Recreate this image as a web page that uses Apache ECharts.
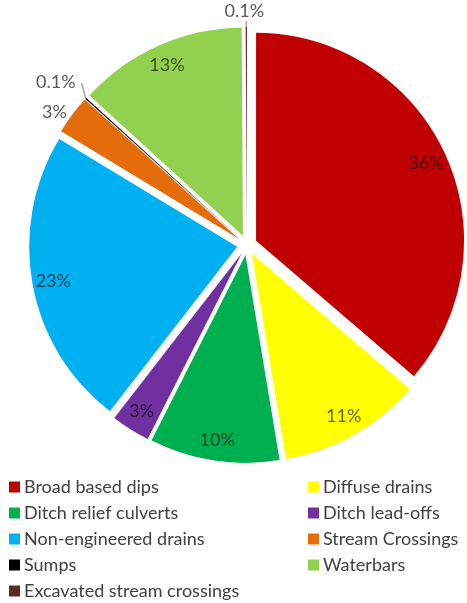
<!DOCTYPE html>
<html>
<head>
<meta charset="utf-8">
<script src="https://cdn.jsdelivr.net/npm/echarts@6/dist/echarts.min.js"></script>
<style>
  html, body { margin: 0; padding: 0; background: #ffffff; }
  #chart { width: 467px; height: 603px; }
</style>
</head>
<body>
<div id="chart"></div>
<script>
// Drainage feature types and their share of the total (percent)
const categories = [
  'Broad based dips',
  'Diffuse drains',
  'Ditch relief culverts',
  'Ditch lead-offs',
  'Non-engineered drains',
  'Stream Crossings',
  'Sumps',
  'Waterbars',
  'Excavated stream crossings'
];
const shares = [36, 11, 10, 3, 23, 3, 0.1, 13, 0.1];
const colors = ['#C00000', '#FFFF00', '#00B050', '#7030A0', '#00B0F0', '#E46C0A', '#000000', '#92D050', '#5C2A24'];

// Legend split into two columns (row-major order)
const legendLeft = ['Broad based dips', 'Ditch relief culverts', 'Non-engineered drains', 'Sumps', 'Excavated stream crossings'];
const legendRight = ['Diffuse drains', 'Ditch lead-offs', 'Stream Crossings', 'Waterbars'];

// Slices too thin for an inside label get an outside one
const outsideLabels = ['Stream Crossings', 'Sumps', 'Excavated stream crossings'];
const leaderLength = { 'Sumps': 11, 'Excavated stream crossings': 7 };

const FONT = 'Lato, "Open Sans", sans-serif';
const CENTER = [247, 245];
const R = 208;

const sliceData = categories.map((name, i) => {
  const outside = outsideLabels.includes(name);
  const leader = leaderLength[name];
  return {
    name: name,
    value: shares[i],
    selected: true,
    itemStyle: { color: colors[i] },
    label: { show: outside },
    labelLine: { show: !!leader, length: leader || 4, length2: 0 }
  };
});

// Transparent ring used only to place the inside labels near the rim
const labelData = categories.map((name, i) => ({
  name: name,
  value: shares[i],
  selected: true,
  label: { show: !outsideLabels.includes(name) }
}));

const pct = p => p.value + '%';

// Leader-line labels sit above the end of their line
function placeLeaderLabel(p) {
  const pts = p.labelLinePoints;
  const name = categories[p.dataIndex];
  if (!pts || !leaderLength[name]) return {};
  const end = pts[pts.length - 1];
  if (name === 'Excavated stream crossings') {
    return { x: end[0], y: end[1] + 1, align: 'center', verticalAlign: 'bottom' };
  }
  return { x: end[0] + 4, y: end[1] + 1, align: 'right', verticalAlign: 'bottom' };
}

const legendBase = {
  orient: 'vertical',
  top: 478,
  padding: 0,
  itemWidth: 11,
  itemHeight: 11,
  itemGap: 8,
  icon: 'rect',
  selectedMode: false,
  textStyle: { fontFamily: FONT, fontSize: 18, color: '#404040', lineHeight: 18, padding: [0, 0, 0, -1] }
};

const chart = echarts.init(document.getElementById('chart'), null, { renderer: 'canvas' });
chart.setOption({
  animation: false,
  backgroundColor: '#ffffff',
  legend: [
    Object.assign({}, legendBase, { left: 9, data: legendLeft }),
    Object.assign({}, legendBase, { left: 308, data: legendRight })
  ],
  series: [
    {
      type: 'pie',
      center: CENTER,
      radius: [0, R],
      startAngle: 90,
      clockwise: true,
      selectedMode: 'multiple',
      selectedOffset: 10,
      avoidLabelOverlap: false,
      data: sliceData,
      label: {
        position: 'outside',
        formatter: pct,
        fontFamily: FONT,
        fontSize: 18,
        color: '#595959',
        distanceToLabelLine: 2
      },
      labelLine: { lineStyle: { color: '#A6A6A6', width: 1.5 } },
      labelLayout: placeLeaderLabel,
      emphasis: { disabled: true },
      select: { itemStyle: {} }
    },
    {
      type: 'pie',
      center: CENTER,
      radius: [160, R],
      startAngle: 90,
      clockwise: true,
      silent: true,
      selectedMode: 'multiple',
      selectedOffset: 10,
      avoidLabelOverlap: false,
      data: labelData,
      itemStyle: { color: 'rgba(0,0,0,0)' },
      label: {
        position: 'inside',
        formatter: pct,
        fontFamily: FONT,
        fontSize: 18,
        color: 'rgba(0,0,0,0.62)'
      },
      labelLine: { show: false },
      emphasis: { disabled: true }
    }
  ]
});
</script>
</body>
</html>
